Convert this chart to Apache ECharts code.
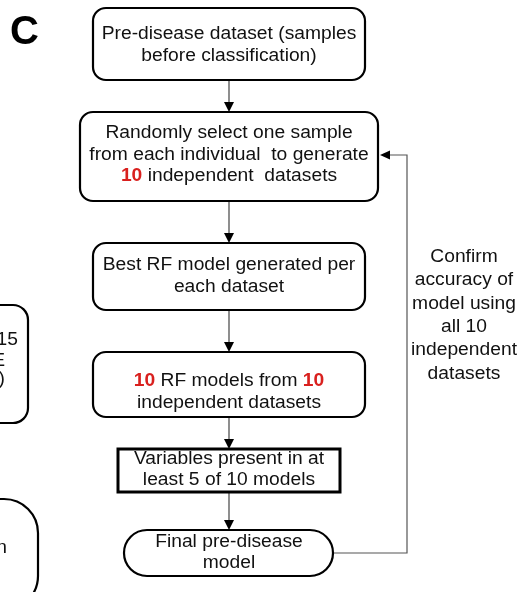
<!DOCTYPE html>
<html>
<head>
<meta charset="utf-8">
<title>Pre-disease model workflow</title>
<script src="https://cdn.jsdelivr.net/npm/echarts@6/dist/echarts.min.js"></script>
<style>
  html, body { margin: 0; padding: 0; background: #fff; }
  #flow { width: 522px; height: 592px; }
</style>
</head>
<body>
<div id="flow"></div>
<script>
// panel letter
var panelLabel = 'C';
// text of each step, top to bottom ({r|..} marks the red numbers)
var stepLines = [
    ['Pre-disease dataset (samples', 'before classification)'],
    ['Randomly select one sample', 'from each individual  to generate', '{r|10} independent  datasets'],
    ['Best RF model generated per', 'each dataset'],
    ['{r|10} RF models from {r|10}', 'independent datasets'],
    ['Variables present in at', 'least 5 of 10 models'],
    ['Final pre-disease', 'model']
];
// note beside the feedback loop
var loopNote = ['Confirm', 'accuracy of', 'model using', 'all 10', 'independent', 'datasets'];
// cut-off text of the neighbouring panel on the left
var leftFragments = [['15', 'E', ')'], ['n']];

(function () {
    var chart = echarts.init(document.getElementById('flow'), null, { renderer: 'canvas' });

    var FONT = '"Liberation Sans", Arial, sans-serif';
    var INK = '#111';
    var RED = '#d9201e';
    var CX = 229;       // centre of the main column
    var SX = 1.1;       // source text is a bit stretched horizontally

    // box geometry, same order as stepLines
    var boxes = [
        { x: 93, y: 8, w: 272, h: 72, r: 13, ty: 45 },
        { x: 80, y: 112, w: 298, h: 89, r: 13, ty: 155 },
        { x: 93, y: 243, w: 272, h: 67, r: 13, ty: 276 },
        { x: 93, y: 352, w: 272, h: 65, r: 13, ty: 392 },
        { x: 118, y: 449, w: 222, h: 43, r: 0, ty: 469.5, lw: 3 },
        { x: 124, y: 530, w: 209, h: 46, r: 23, ty: 552.5 }
    ];
    // partial boxes of the left panel
    var leftBoxes = [
        { x: -60, y: 305, w: 88, h: 118, r: 15, lines: [[18, 340], [5, 361], [5, 379]] },
        { x: -80, y: 499, w: 118, h: 111, r: 34, lines: [[7, 548]] }
    ];

    function textEl(x, y, str, align, lh) {
        return {
            type: 'text', x: x, y: y, scaleX: SX, z: 10,
            style: {
                text: str, fontSize: 17.5, fontFamily: FONT, fill: INK,
                align: align, verticalAlign: 'middle', lineHeight: lh,
                rich: { r: { fill: RED, fontWeight: 'bold', fontSize: 17.5, fontFamily: FONT, lineHeight: lh } }
            }
        };
    }

    var els = [];

    // panel letter
    els.push({
        type: 'text', x: 10, y: 33,
        style: { text: panelLabel, fontSize: 40, fontWeight: 'bold', fontFamily: FONT, fill: '#000', align: 'left', verticalAlign: 'middle' }
    });

    // step boxes
    boxes.forEach(function (b, i) {
        els.push({
            type: 'rect',
            shape: { x: b.x, y: b.y, width: b.w, height: b.h, r: b.r },
            style: { fill: '#fff', stroke: '#000', lineWidth: b.lw || 2.2 },
            z: 5
        });
        els.push(textEl(CX, b.ty, stepLines[i].join('\n'), 'center', 21.5));
    });

    // connectors between steps
    for (var i = 0; i < boxes.length - 1; i++) {
        var top = boxes[i].y + boxes[i].h;
        var tip = boxes[i + 1].y;
        els.push({
            type: 'line', shape: { x1: CX, y1: top, x2: CX, y2: tip - 8 },
            style: { stroke: '#444', lineWidth: 1.2 }, z: 4
        });
        els.push({
            type: 'polygon', shape: { points: [[CX - 5, tip - 10], [CX + 5, tip - 10], [CX, tip]] },
            style: { fill: '#000' }, z: 6
        });
    }

    // feedback loop from the final model back to the sampling step
    var last = boxes[boxes.length - 1];
    var loopY = 553, loopX = 407, backY = 155, backTip = boxes[1].x + boxes[1].w + 2;
    els.push({
        type: 'polyline',
        shape: { points: [[last.x + last.w, loopY], [loopX, loopY], [loopX, backY], [backTip + 9, backY]] },
        style: { stroke: '#555', lineWidth: 1.2, fill: null }, z: 4
    });
    els.push({
        type: 'polygon', shape: { points: [[backTip, backY], [backTip + 10, backY - 4.5], [backTip + 10, backY + 4.5]] },
        style: { fill: '#000' }, z: 6
    });
    els.push(textEl(464, 315.5, loopNote.join('\n'), 'center', 23.4));

    // neighbouring panel, cut by the image edge
    leftBoxes.forEach(function (b, j) {
        els.push({
            type: 'rect',
            shape: { x: b.x, y: b.y, width: b.w, height: b.h, r: b.r },
            style: { fill: '#fff', stroke: '#000', lineWidth: 2.2 },
            z: 5
        });
        leftFragments[j].forEach(function (t, k) {
            els.push(textEl(b.lines[k][0], b.lines[k][1], t, 'right', 20));
        });
    });

    var option = {
        backgroundColor: '#fff',
        animation: false,
        graphic: { elements: els }
    };
    chart.setOption(option);
    window.addEventListener('resize', function () {
        chart.resize();
    });
})();
</script>
</body>
</html>
